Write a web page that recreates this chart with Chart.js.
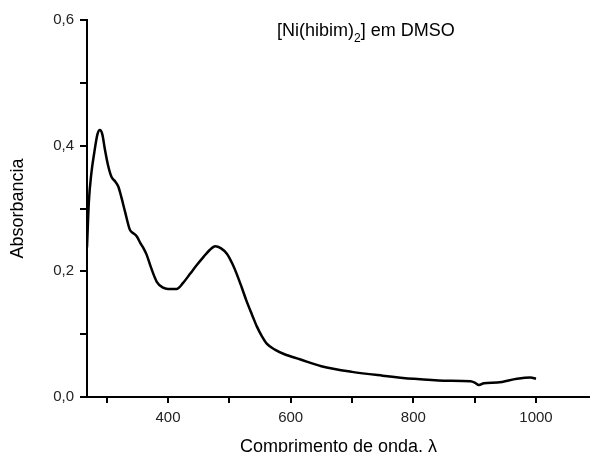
<!DOCTYPE html>
<html>
<head>
<meta charset="utf-8">
<script src="https://cdn.jsdelivr.net/npm/chart.js@4"></script>
<style>
  html, body { margin:0; padding:0; background:#fff; }
  #wrap { width:590px; height:452px; }
</style>
</head>
<body>
<div id="wrap"><canvas id="spec" width="590" height="452"></canvas></div>
<script>
// spectrum (wavelength nm -> absorbance)
const wavelengths = [268, 271, 275, 280, 285, 289, 293, 297, 302, 308, 314, 319, 324, 330, 338, 343, 349, 355, 360, 365, 372, 382, 392, 400, 414, 425, 436, 447, 458, 468, 477, 486, 496, 505, 512, 520, 528, 537, 545, 553, 561, 575, 590, 615, 650, 700, 750, 800, 850, 893, 900, 907, 915, 937, 969, 991, 1000];
const absorbance = [0.238, 0.31, 0.355, 0.39, 0.418, 0.425, 0.418, 0.395, 0.37, 0.35, 0.343, 0.335, 0.318, 0.295, 0.266, 0.261, 0.256, 0.245, 0.237, 0.227, 0.207, 0.183, 0.174, 0.172, 0.172, 0.182, 0.196, 0.21, 0.223, 0.234, 0.24, 0.237, 0.228, 0.212, 0.196, 0.175, 0.153, 0.131, 0.112, 0.097, 0.085, 0.075, 0.068, 0.06, 0.049, 0.04, 0.034, 0.029, 0.026, 0.025, 0.023, 0.019, 0.022, 0.023, 0.029, 0.031, 0.029];

const xTicks = [300, 400, 500, 600, 700, 800, 900, 1000];
const xLabeled = [400, 600, 800, 1000];
const yTicks = [0, 0.1, 0.2, 0.3, 0.4, 0.5, 0.6];
const yLabels = ['0,0', '', '0,2', '', '0,4', '', '0,6'];

const FONT = 'Arial, "Liberation Sans", sans-serif';

// in-plot label with the subscript 2
const labelPlugin = {
  id: 'sampleLabel',
  afterDraw(chart){
    const c = chart.ctx;
    c.save();
    c.fillStyle = '#000';
    c.textBaseline = 'alphabetic';
    let x = 277, y = 36;
    c.font = '18px ' + FONT;
    c.fillText('[Ni(hibim)', x, y);
    x += c.measureText('[Ni(hibim)').width;
    c.font = '12px ' + FONT;
    c.fillText('2', x, y + 6);
    x += c.measureText('2').width;
    c.font = '18px ' + FONT;
    c.fillText('] em DMSO', x, y);
    c.restore();
  }
};

new Chart(document.getElementById('spec'), {
  type: 'line',
  data: {
    datasets: [{
      data: wavelengths.map((w, i) => ({ x: w, y: absorbance[i] })),
      borderColor: '#000',
      borderWidth: 2.5,
      pointRadius: 0,
      tension: 0.4,
      cubicInterpolationMode: 'monotone',
      fill: false
    }]
  },
  options: {
    responsive: false,
    animation: false,
    layout: { padding: { top: 20, right: 0, left: 0, bottom: 0 } },
    plugins: { legend: { display: false }, tooltip: { enabled: false } },
    scales: {
      x: {
        type: 'linear',
        min: 268,
        max: 1088,
        afterBuildTicks: s => { s.ticks = xTicks.map(v => ({ value: v })); },
        afterFit: s => { s.height = 55; },
        ticks: {
          autoSkip: false,
          maxRotation: 0,
          padding: 6,
          color: '#222',
          font: { family: FONT, size: 15 },
          callback: v => xLabeled.includes(v) ? String(v) : ''
        },
        grid: { drawOnChartArea: false, drawTicks: true, tickLength: 6, color: '#000', lineWidth: 2 },
        border: { display: true, color: '#000', width: 2 },
        title: {
          display: true,
          text: 'Comprimento de onda, λ',
          color: '#000',
          font: { family: FONT, size: 18, lineHeight: 0.6 },
          padding: 0
        }
      },
      y: {
        min: 0,
        max: 0.6,
        afterBuildTicks: s => { s.ticks = yTicks.map(v => ({ value: v })); },
        afterFit: s => { s.width = 87; },
        ticks: {
          autoSkip: false,
          padding: 6,
          color: '#222',
          font: { family: FONT, size: 15 },
          callback: (v, i) => yLabels[i]
        },
        grid: { drawOnChartArea: false, drawTicks: true, tickLength: 7, color: '#000', lineWidth: 2 },
        border: { display: true, color: '#000', width: 2 },
        title: {
          display: true,
          text: 'Absorbancia',
          color: '#000',
          font: { family: FONT, size: 18, lineHeight: 1.2 },
          padding: { top: 7, bottom: 0 }
        }
      }
    }
  },
  plugins: [labelPlugin]
});
</script>
</body>
</html>
